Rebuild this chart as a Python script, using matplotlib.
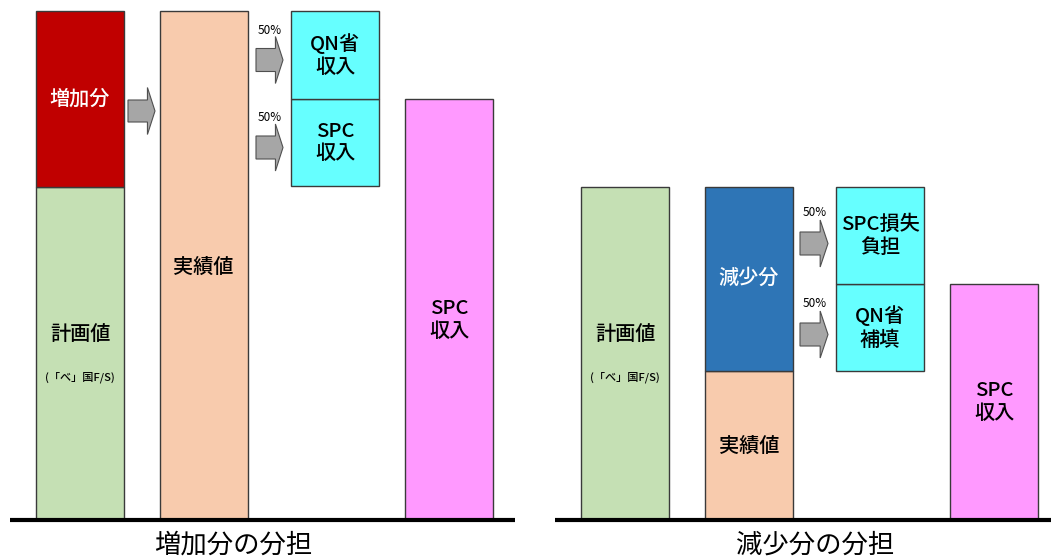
import matplotlib
matplotlib.use('Agg')
import matplotlib.pyplot as plt
from matplotlib.patches import FancyArrow

plt.rcParams['font.family'] = ['Noto Sans CJK JP', 'DejaVu Sans']

# Block heights measured from the baseline (same units on both panels)
inc_plan = 333
inc_increase = 176
inc_actual = 509
inc_qn_income = 88
inc_spc_income_share = 87
inc_spc_income = 421

dec_plan = 333
dec_decrease = 184
dec_actual = 149
dec_spc_loss = 97
dec_qn_comp = 87
dec_spc_income = 236

share_labels = ['50%', '50%']
panel_titles = ['増加分の分担', '減少分の分担']

GREEN = '#C5E0B4'
RED = '#C00000'
PEACH = '#F8CBAD'
CYAN = '#66FFFF'
PINK = '#FF99FF'
BLUE = '#2E75B6'
ARROW = '#A6A6A6'
EDGE = '#3A3A3A'
W = 88

fig = plt.figure(figsize=(10.51, 5.59), dpi=100)
ax = fig.add_axes([0, 0, 1, 1])
ax.set_xlim(0, 1051)
ax.set_ylim(-39, 520)
ax.axis('off')


def box(x, h, bottom, color):
    ax.bar(x, h, width=W, bottom=bottom, color=color, edgecolor=EDGE,
           linewidth=1.0, zorder=2)


def block_arrow(x0, x1, y, body, head):
    ax.add_patch(FancyArrow(
        x0, y, x1 - x0, 0, width=body, head_width=head,
        head_length=(x1 - x0) * 0.28, length_includes_head=True,
        facecolor=ARROW, edgecolor='#505050', linewidth=0.8, zorder=3))


def label(x, y, s, size=14.5, color='black'):
    ax.text(x, y, s, ha='center', va='center', fontsize=size, color=color,
            fontweight='medium', linespacing=1.25, zorder=4)


# ---- increase case ----
x1, x2, x3, x4 = 80, 203.5, 335, 449
box(x1, inc_plan, 0, GREEN)
box(x1, inc_increase, inc_plan, RED)
box(x2, inc_actual, 0, PEACH)
box(x3, inc_spc_income_share, inc_actual - inc_qn_income - inc_spc_income_share, CYAN)
box(x3, inc_qn_income, inc_actual - inc_qn_income, CYAN)
box(x4, inc_spc_income, 0, PINK)

label(x1, inc_plan + inc_increase / 2, '増加分', color='white')
label(x1, 185, '計画値')
label(x1, 143, '(「べ」国F/S)', size=8)
label(x2, 253, '実績値')
qn_mid = inc_actual - inc_qn_income / 2
spc_mid = inc_actual - inc_qn_income - inc_spc_income_share / 2
label(x3, qn_mid, 'QN省\n収入')
label(x3, spc_mid, 'SPC\n収入')
label(x4, 200, 'SPC\n収入')

block_arrow(128, 155, inc_plan + inc_increase / 2 - 12, 22, 47)
for ym, s in zip([qn_mid - 5, spc_mid - 5], share_labels):
    block_arrow(256, 283, ym, 23, 47)
    ax.text(270, ym + 30, s, ha='center', va='center', fontsize=8.5, zorder=4)

ax.plot([10, 515], [0, 0], color='black', linewidth=3, zorder=5,
        solid_capstyle='butt')
ax.text(233, -25, panel_titles[0], ha='center', va='center', fontsize=19)

# ---- decrease case ----
r1, r2, r3, r4 = 625, 749, 880, 994
box(r1, dec_plan, 0, GREEN)
box(r2, dec_actual, 0, PEACH)
box(r2, dec_decrease, dec_actual, BLUE)
box(r3, dec_qn_comp, dec_actual, CYAN)
box(r3, dec_spc_loss, dec_actual + dec_qn_comp, CYAN)
box(r4, dec_spc_income, 0, PINK)

label(r1, 185, '計画値')
label(r1, 143, '(「べ」国F/S)', size=8)
label(r2, dec_actual + dec_decrease / 2 + 1, '減少分', color='white')
label(r2, 74, '実績値')
loss_mid = dec_actual + dec_qn_comp + dec_spc_loss / 2
comp_mid = dec_actual + dec_qn_comp / 2
label(r3, loss_mid, 'SPC損失\n負担')
label(r3, comp_mid, 'QN省\n補填')
label(r4, 118, 'SPC\n収入')

for ym, s in zip([loss_mid - 8, comp_mid - 7], share_labels):
    block_arrow(800, 828, ym, 23, 47)
    ax.text(815, ym + 31, s, ha='center', va='center', fontsize=8.5, zorder=4)

ax.plot([555, 1051], [0, 0], color='black', linewidth=3, zorder=5,
        solid_capstyle='butt')
ax.text(815, -25, panel_titles[1], ha='center', va='center', fontsize=19)

fig.savefig('out.png', dpi=100)
